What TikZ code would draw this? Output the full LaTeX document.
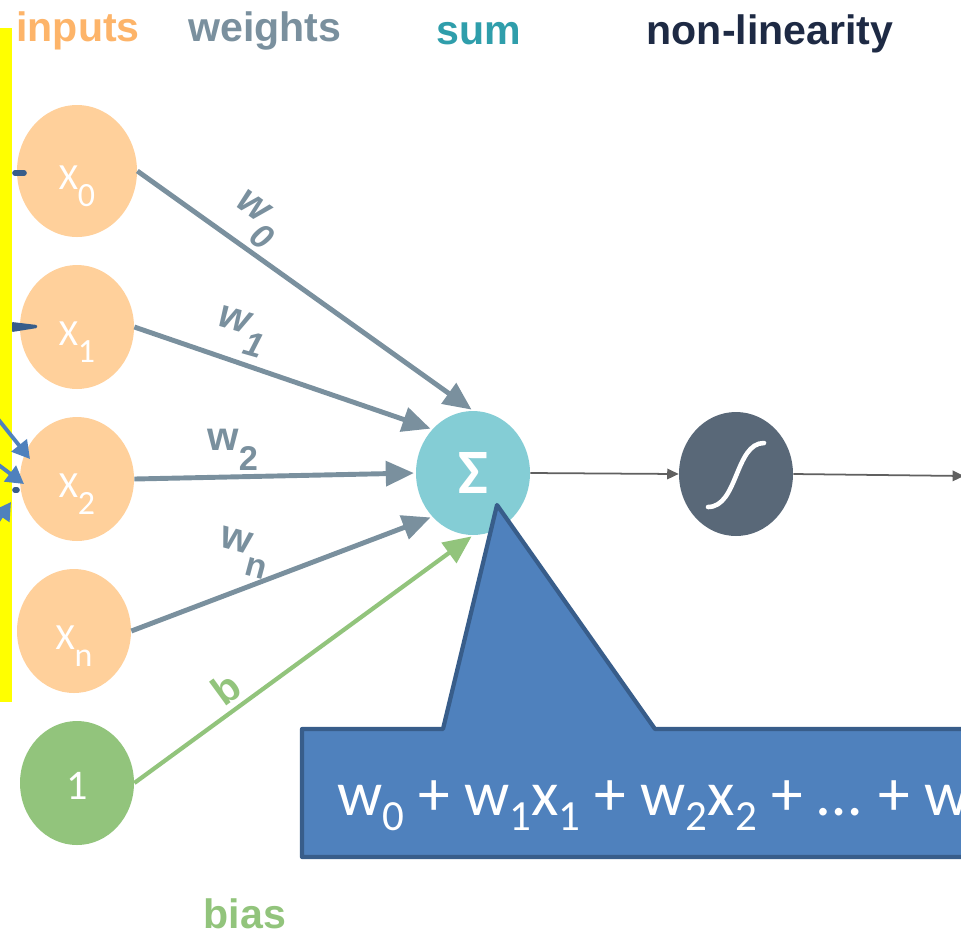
\documentclass[tikz,border=0pt]{standalone}
\usepackage{fontspec}
\setmainfont{Liberation Sans}
\newfontfamily\calfont{Carlito}
\usetikzlibrary{arrows.meta,shapes.geometric}
\definecolor{inputc}{HTML}{FFD09B}
\definecolor{inputt}{HTML}{FDB469}
\definecolor{weightc}{HTML}{7A909E}
\definecolor{sumc}{HTML}{84CDD5}
\definecolor{sumt}{HTML}{2F9EAB}
\definecolor{nonlinc}{HTML}{596878}
\definecolor{nonlint}{HTML}{1E2A44}
\definecolor{biasc}{HTML}{92C47C}
\definecolor{thinc}{HTML}{606060}
\definecolor{callc}{HTML}{4F81BD}
\definecolor{calld}{HTML}{385D8A}
\definecolor{sidebar}{HTML}{FFFF00}
\newcommand{\dn}[1]{\raisebox{-.24em}{\scalebox{.68}{#1}}}
\newcommand{\wdn}[1]{\raisebox{-.5em}{\scalebox{.85}{#1}}}
\newcommand{\xdn}[1]{\raisebox{-.45em}{\scalebox{.92}{#1}}}

\begin{document}
\begin{tikzpicture}[x=0.02cm, y=-0.02cm, >=Latex,
  blob/.style={ellipse, minimum width=114*0.02cm, minimum height=124*0.02cm, inner sep=0pt, text=white},
  invar/.style={blob, fill=inputc, text height=31pt, text depth=9.5pt, font=\calfont\fontsize{21}{21}\selectfont},
  head/.style={font=\bfseries\fontsize{23.4}{23.4}\selectfont},
  wlab/.style={font=\bfseries\fontsize{23}{23}\selectfont, text=weightc, inner sep=0pt},
  wslant/.style={wlab, font=\bfseries\itshape\fontsize{23}{23}\selectfont},
  warr/.style={-{Triangle[length=16pt, width=14pt]}, line width=2.8pt, draw=weightc, shorten >=1pt},
  thinarr/.style={-{Triangle[length=6.5pt, width=6pt]}, line width=1pt, draw=thinc},
  fromleft/.style={-{Triangle[length=10pt, width=11pt]}, line width=2.2pt, draw=callc}]
\path[use as bounding box, clip] (0,0) rectangle (961,938);
\fill[sidebar] (0,28) rectangle (12,702);

\node[head, text=inputt] (tinputs) at (78,31) {inputs};
\node[head, text=weightc] (tweights) at (265,31) {weights};
\node[head, text=sumt] (tsum) at (479,34) {sum};
\node[head, text=nonlint] (tnonlin) at (770,34) {non-linearity};
\node[head, text=biasc] (tbias) at (245,914) {bias};

\node[invar, minimum width=120*0.02cm, minimum height=132*0.02cm] (x0) at (77,171) {X\xdn{0}};
\node[invar] (x1) at (77,327) {X\xdn{1}};
\node[invar] (x2) at (77,479) {X\xdn{2}};
\node[invar] (xn) at (74,631) {X\xdn{n}};
\node[blob, fill=biasc, text height=19pt, text depth=0pt, font=\calfont\fontsize{24}{24}\selectfont] (one) at (77,783) {1};
\node[blob, fill=sumc, font=\calfont\bfseries\fontsize{36}{36}\selectfont] (sum) at (473,473) {Σ\hspace{4.5pt}};
\node[blob, fill=nonlinc] (nonlin) at (736,474) {};
\coordinate (out) at (964,476);

\draw[warr] (x0.east) -- node[wslant, pos=.30, rotate=-36, above=3pt] (lw0) {w\wdn{0}} (sum.north);
\draw[warr] (x1.east) -- node[wslant, pos=.33, rotate=-16, above=4pt] (lw1) {w\wdn{1}} (sum.133);
\draw[warr] (x2.east) -- node[wlab, pos=.35, above=2pt] (lw2) {w\wdn{2}} (sum.west);
\draw[warr] (xn.east) -- node[wlab, pos=.34, rotate=-15, above=10pt] (lwn) {w\wdn{n}} (sum.227);
\draw[warr, draw=biasc, line width=2.4pt] (one.east) -- node[wlab, pos=.31, sloped, above=3pt, text=biasc] (lb) {b} (sum.south);
\draw[thinarr] (sum.east) -- (nonlin.west);
\draw[thinarr] (nonlin.east) -- (out);
\draw[white, line width=2.6pt, line cap=round] (708,507) .. controls (738,507) and (735,443) .. (764,443);

\coordinate (a1) at (-6,414);
\coordinate (a1e) at (30,459);
\coordinate (a2) at (-8,460);
\coordinate (a2e) at (24,484);
\coordinate (a3) at (-8,530);
\coordinate (a3e) at (11,502);
\draw[fromleft] (a1) -- (a1e);
\draw[fromleft] (a2) -- (a2e);
\draw[fromleft] (a3) -- (a3e);
\draw[calld, line width=3.2pt, line cap=round] (15,173) -- (24,173);
\fill[calld, rounded corners=.5pt] (12,322) -- (37,325) -- (37,328) -- (12,332) -- cycle;
\draw[calld, line width=3.2pt, line cap=round] (15,490) -- (17,490);

\draw[fill=callc, draw=calld, line width=2.4pt, line join=round]
  (302,729) -- (443,729) -- (497,505) -- (655,729) -- (980,729) -- (980,857) -- (302,857) -- cycle;
\node[anchor=base west, inner sep=0pt, text=white, font=\calfont\fontsize{36}{36}\selectfont] (formula) at (337,815)
  {w\dn{0} + w\dn{1}x\dn{1} + w\dn{2}x\dn{2} + …\hspace{2pt} + w};
\end{tikzpicture}
\end{document}
